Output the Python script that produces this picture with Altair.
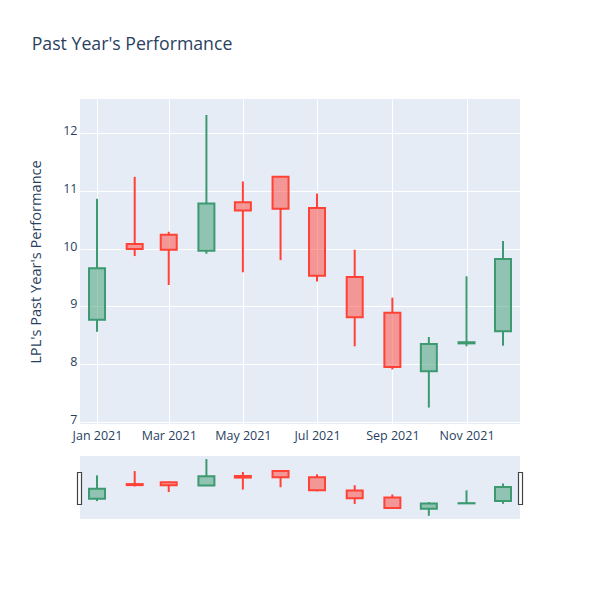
import altair as alt
import pandas as pd

dates = ["2021-01-01", "2021-02-01", "2021-03-01", "2021-04-01", "2021-05-01", "2021-06-01",
         "2021-07-01", "2021-08-01", "2021-09-01", "2021-10-01", "2021-11-01", "2021-12-01"]
open_ = [8.77, 10.08, 10.24, 9.96, 10.80, 11.24, 10.70, 9.51, 8.89, 7.88, 8.36, 8.57]
high = [10.86, 11.24, 10.29, 12.31, 11.16, 11.24, 10.95, 9.98, 9.15, 8.47, 9.52, 10.13]
low = [8.56, 9.87, 9.37, 9.91, 9.59, 9.80, 9.43, 8.31, 7.91, 7.25, 8.31, 8.32]
close = [9.66, 9.99, 9.98, 10.78, 10.66, 10.69, 9.53, 8.81, 7.95, 8.35, 8.38, 9.82]

df = pd.DataFrame({"date": dates, "open": open_, "high": high, "low": low, "close": close})
df["lower"] = df[["open", "close"]].min(axis=1)
df["upper"] = df[["open", "close"]].max(axis=1)
df["dir"] = ["up" if c >= o else "down" for o, c in zip(df["open"], df["close"])]

FONT = "Open Sans"
TXT = "#2a3f5f"
color_scale = alt.Scale(domain=["up", "down"], range=["#3D9970", "#FF4136"])
x_dom = [alt.DateTime(year=2020, month=12, date=18, utc=True),
         alt.DateTime(year=2021, month=12, date=15, utc=True)]
y_dom = [6.966, 12.586]
tick_vals = [alt.DateTime(year=2021, month=m, date=1, utc=True) for m in [1, 3, 5, 7, 9, 11]]


def candles(show_axes, w, h):
    xscale = alt.Scale(type="utc", domain=x_dom, padding=0)
    yscale = alt.Scale(domain=y_dom, zero=False, nice=False, padding=0)
    if show_axes:
        xaxis = alt.Axis(values=tick_vals, labelExpr="utcFormat(datum.value, '%b %Y')", title=None,
                         labelPadding=5, labelOverlap=False, labelFlush=False)
        yaxis = alt.Axis(values=[7, 8, 9, 10, 11, 12], format="d", title="LPL's Past Year's Performance",
                         labelPadding=3, labelOffset=-2.5, titlePadding=19, titleFontSize=14.6,
                         titleFontWeight="normal")
    else:
        xaxis = None
        yaxis = None
    base = alt.Chart(df)
    c = alt.Color("dir:N", scale=color_scale, legend=None)
    wick_hi = base.mark_rule(strokeWidth=2).encode(
        x=alt.X("date:T", scale=xscale, axis=xaxis),
        y=alt.Y("upper:Q", scale=yscale, axis=yaxis),
        y2="high:Q", color=c)
    wick_lo = base.mark_rule(strokeWidth=2).encode(
        x=alt.X("date:T", scale=xscale, axis=xaxis),
        y=alt.Y("low:Q", scale=yscale, axis=yaxis),
        y2="lower:Q", color=c)
    box = base.mark_bar(size=16, strokeWidth=2, fillOpacity=0.5).encode(
        x=alt.X("date:T", scale=xscale, axis=xaxis),
        y=alt.Y("open:Q", scale=yscale, axis=yaxis),
        y2="close:Q",
        fill=alt.Fill("dir:N", scale=color_scale, legend=None),
        stroke=alt.Stroke("dir:N", scale=color_scale, legend=None))
    return alt.layer(wick_hi, wick_lo, box).properties(width=w, height=h)


main = candles(True, 440, 325)

slider_c = candles(False, 440, 63)
hdata = alt.Chart(pd.DataFrame({"h": [0]}))
handle_l = hdata.mark_rect(fill="white", stroke="#444", strokeWidth=1.2).encode(
    x=alt.value(-2.5), x2=alt.value(1.5), y=alt.value(16.5), y2=alt.value(48.5))
handle_r = hdata.mark_rect(fill="white", stroke="#444", strokeWidth=1.2).encode(
    x=alt.value(438.5), x2=alt.value(442.5), y=alt.value(16.5), y2=alt.value(48.5))
slider = alt.layer(slider_c, handle_l, handle_r).properties(width=440, height=63)

chart = alt.vconcat(main, slider, spacing=32, bounds="flush").properties(
    title=alt.TitleParams("Past Year's Performance", anchor="start", fontSize=17.7, font=FONT,
                          color=TXT, fontWeight="normal", offset=45, dx=3),
    padding={"left": 20, "top": 28, "right": 10, "bottom": 10},
).configure(font=FONT).configure_view(fill="#e5ecf6", stroke=None).configure_axis(
    grid=True, gridColor="white", gridWidth=1, domain=False, ticks=False,
    labelColor=TXT, labelFont=FONT, labelFontSize=12.5, titleColor=TXT, titleFont=FONT,
)

chart.save("out.html", embed_options={"renderer": "svg", "actions": False})
